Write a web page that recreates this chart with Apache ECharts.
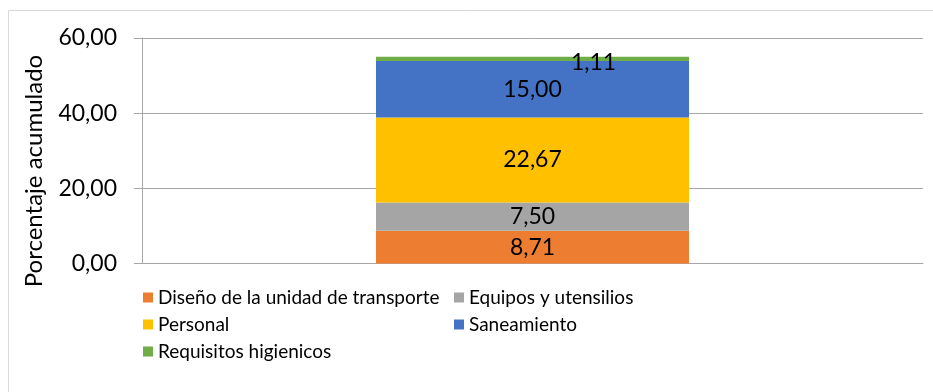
<!DOCTYPE html>
<html>
<head>
<meta charset="utf-8">
<script src="https://cdn.jsdelivr.net/npm/echarts@6/dist/echarts.min.js"></script>
<style>
  html, body { margin: 0; padding: 0; background: #fff; }
  #chart { width: 933px; height: 392px; }
</style>
</head>
<body>
<div id="chart"></div>
<script>
// Single stacked column: accumulated percentage by component
const categories = ['Total'];
const seriesNames = [
  'Diseño de la unidad de transporte',
  'Equipos y utensilios',
  'Personal',
  'Saneamiento',
  'Requisitos higienicos'
];
const seriesValues = [
  [8.71],
  [7.50],
  [22.67],
  [15.00],
  [1.11]
];
const seriesColors = ['#ED7D31', '#A5A5A5', '#FFC000', '#4472C4', '#70AD47'];
const yTicks = { min: 0, max: 60, interval: 20 };

const FONT = 'Lato';
const fmt = v => Number(v).toFixed(2).replace('.', ',');

const chart = echarts.init(document.getElementById('chart'), null, { renderer: 'canvas' });

const series = seriesNames.map((name, i) => ({
  name,
  type: 'bar',
  stack: 'total',
  barWidth: 313,
  data: seriesValues[i],
  itemStyle: { color: seriesColors[i] },
  label: {
    show: true,
    position: 'inside',
    color: '#000',
    fontFamily: FONT,
    fontSize: 23,
    offset: i === 4 ? [61, 4] : [0, 0],
    formatter: p => fmt(p.value)
  }
}));

chart.setOption({
  animation: false,
  backgroundColor: '#fff',
  textStyle: { fontFamily: FONT },
  graphic: [
    {
      type: 'rect',
      shape: { x: 8.5, y: 10.5, width: 940, height: 400 },
      style: { fill: 'none', stroke: '#d9d9d9', lineWidth: 1 },
      silent: true
    },
    {
      type: 'text',
      x: 34,
      y: 171,
      rotation: Math.PI / 2,
      style: {
        text: 'Porcentaje acumulado',
        fontFamily: FONT,
        fontSize: 24,
        fill: '#000',
        align: 'center',
        verticalAlign: 'middle'
      }
    }
  ],
  grid: { left: 142, right: 10, top: 38, bottom: 128.5, containLabel: false },
  xAxis: {
    type: 'category',
    data: categories,
    axisLine: { show: true, lineStyle: { color: '#a6a6a6', width: 1 } },
    axisTick: { show: false },
    axisLabel: { show: false }
  },
  yAxis: {
    type: 'value',
    min: yTicks.min,
    max: yTicks.max,
    interval: yTicks.interval,
    axisLine: { show: true, lineStyle: { color: '#a6a6a6', width: 1 } },
    axisTick: { show: true, length: 8, lineStyle: { color: '#a6a6a6' } },
    splitLine: { show: true, lineStyle: { color: '#a6a6a6', width: 1 } },
    axisLabel: {
      margin: 25,
      color: '#000',
      fontFamily: FONT,
      fontSize: 23,
      formatter: v => fmt(v)
    }
  },
  legend: [
    {
      data: [seriesNames[0], seriesNames[2], seriesNames[4]],
      orient: 'vertical',
      left: 138,
      top: 283,
      itemWidth: 10,
      itemHeight: 10,
      itemGap: 8,
      icon: 'rect',
      textStyle: { color: '#000', fontFamily: FONT, fontSize: 19 }
    },
    {
      data: [seriesNames[1], seriesNames[3]],
      orient: 'vertical',
      left: 449,
      top: 283,
      itemWidth: 10,
      itemHeight: 10,
      itemGap: 8,
      icon: 'rect',
      textStyle: { color: '#000', fontFamily: FONT, fontSize: 19 }
    }
  ],
  series
});
</script>
</body>
</html>
